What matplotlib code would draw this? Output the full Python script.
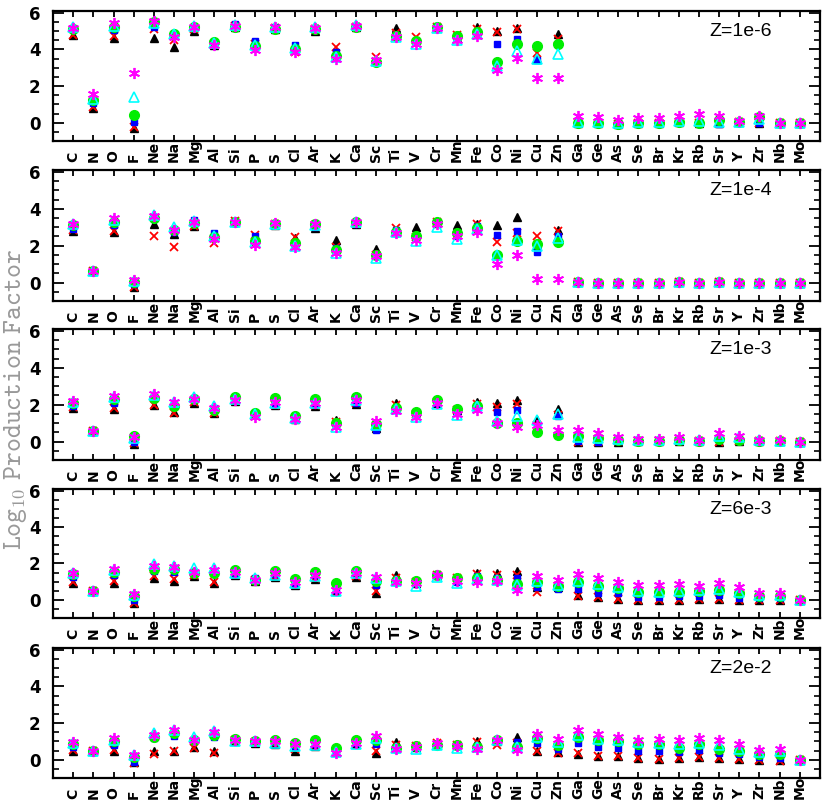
import matplotlib
matplotlib.use("Agg")
import matplotlib.pyplot as plt
from matplotlib.ticker import MultipleLocator
from matplotlib.transforms import offset_copy

elements = ["C", "N", "O", "F", "Ne", "Na", "Mg", "Al", "Si", "P", "S", "Cl", "Ar", "K", "Ca",
            "Sc", "Ti", "V", "Cr", "Mn", "Fe", "Co", "Ni", "Cu", "Zn", "Ga", "Ge", "As", "Se",
            "Br", "Kr", "Rb", "Sr", "Y", "Zr", "Nb", "Mo"]

panel_labels = ["Z=1e-6", "Z=1e-4", "Z=1e-3", "Z=6e-3", "Z=2e-2"]

# ---- Z=1e-6 ----
z1e6_black = [4.8, 0.8, 4.65, -0.3, 4.65, 4.15, 5.0, 4.25, 5.25, 4.35, 5.1, 4.2, 5.0, 3.85, 5.2, 3.35, 5.15, 4.5, 5.2, 4.65, 5.2, 5.0, 5.15, 3.5, 4.85,
              0.0, 0.0, -0.05, 0.0, 0.0, 0.05, 0.0, 0.0, 0.05, 0.0, 0.0, 0.0]
z1e6_red = [4.8, 0.85, 4.75, -0.25, 5.1, 4.5, 5.1, 4.3, 5.3, 4.3, 5.15, 3.85, 5.1, 4.15, 5.2, 3.6, 4.9, 4.7, 5.2, 4.8, 5.1, 4.95, 5.1, 3.8, 4.55,
            0.0, 0.0, -0.05, 0.0, 0.0, 0.05, 0.0, 0.0, 0.05, 0.0, 0.0, 0.0]
z1e6_blue = [5.1, 1.05, 5.05, 0.05, 5.2, 4.75, 5.2, 4.35, 5.4, 4.45, 5.2, 4.25, 5.15, 3.85, 5.3, 3.35, 4.8, 4.45, 5.2, 4.55, 4.9, 4.3, 4.55, 3.4, 4.3,
             0.0, 0.0, -0.05, 0.0, 0.0, 0.05, 0.0, -0.05, 0.05, 0.0, 0.0, 0.0]
z1e6_green = [5.1, 1.25, 5.2, 0.4, 5.5, 4.85, 5.25, 4.4, 5.25, 4.2, 5.1, 4.0, 5.1, 3.65, 5.25, 3.3, 4.75, 4.45, 5.2, 4.75, 4.95, 3.3, 4.3, 4.2, 4.3,
              0.0, 0.0, -0.05, 0.0, 0.0, 0.05, 0.0, 0.15, 0.05, 0.3, 0.0, 0.0]
z1e6_cyan = [5.2, 1.3, 5.3, 1.4, 5.45, 4.85, 5.3, 4.35, 5.35, 4.25, 5.25, 4.1, 5.2, 3.6, 5.35, 3.35, 4.7, 4.3, 5.15, 4.5, 4.85, 3.1, 3.9, 3.5, 3.75,
             0.05, 0.05, 0.0, 0.05, 0.05, 0.1, 0.1, 0.05, 0.05, 0.2, 0.0, 0.0]
z1e6_magenta = [5.15, 1.55, 5.45, 2.7, 5.55, 4.7, 5.25, 4.25, 5.3, 3.95, 5.2, 3.85, 5.15, 3.5, 5.3, 3.4, 4.7, 4.3, 5.15, 4.5, 4.75, 2.9, 3.55, 2.45, 2.45,
                0.35, 0.3, 0.15, 0.25, 0.25, 0.35, 0.5, 0.35, 0.1, 0.35, 0.0, 0.0]

# ---- Z=1e-4 ----
z1e4_black = [2.8, 0.6, 2.75, -0.25, 3.15, 2.65, 3.05, 2.5, 3.3, 2.45, 3.1, 2.4, 2.95, 2.3, 3.15, 1.8, 2.75, 3.0, 3.25, 3.1, 3.15, 3.1, 3.55, 2.05, 2.85,
              0.05, 0.0, -0.05, -0.05, -0.05, 0.05, 0.0, 0.05, 0.0, 0.0, 0.0, 0.0]
z1e4_red = [2.85, 0.6, 2.8, -0.25, 2.55, 1.9, 3.05, 2.15, 3.35, 2.6, 3.15, 2.45, 3.1, 1.95, 3.2, 1.5, 2.95, 2.45, 3.3, 2.6, 3.2, 2.2, 2.7, 2.5, 2.8,
            0.05, 0.0, -0.05, -0.05, -0.05, 0.05, 0.0, 0.05, 0.0, 0.0, 0.0, 0.0]
z1e4_blue = [2.9, 0.6, 3.1, -0.1, 3.45, 2.75, 3.4, 2.7, 3.3, 2.5, 3.15, 2.05, 3.0, 1.85, 3.15, 1.45, 2.85, 2.4, 3.25, 2.5, 3.05, 2.6, 2.8, 1.65, 2.5,
             0.05, 0.0, -0.05, -0.05, -0.05, 0.05, 0.0, 0.05, 0.0, 0.0, 0.0, 0.0]
z1e4_green = [3.1, 0.6, 3.3, 0.05, 3.5, 2.85, 3.25, 2.45, 3.3, 2.25, 3.2, 2.15, 3.15, 1.75, 3.3, 1.5, 2.75, 2.5, 3.3, 2.7, 2.95, 1.5, 2.25, 2.1, 2.2,
              0.05, 0.0, -0.05, -0.05, -0.05, 0.05, 0.0, 0.05, 0.0, 0.0, 0.0, 0.0]
z1e4_cyan = [3.15, 0.6, 3.4, 0.1, 3.65, 3.0, 3.35, 2.55, 3.3, 2.2, 3.2, 2.0, 3.1, 1.6, 3.3, 1.35, 2.75, 2.25, 3.0, 2.35, 2.9, 1.5, 2.3, 2.0, 2.4,
             0.05, 0.0, -0.05, -0.05, -0.05, 0.05, 0.0, 0.05, 0.0, 0.0, 0.0, 0.0]
z1e4_magenta = [3.2, 0.6, 3.5, 0.15, 3.6, 2.85, 3.3, 2.35, 3.3, 2.05, 3.25, 1.95, 3.15, 1.6, 3.3, 1.45, 2.7, 2.3, 3.2, 2.55, 2.75, 1.0, 1.5, 0.2, 0.2,
                0.05, 0.0, -0.05, -0.05, -0.05, 0.05, 0.0, 0.05, 0.0, 0.0, 0.0, 0.0]

# ---- Z=1e-3 ----
z1e3_black = [1.8, 0.55, 1.75, -0.15, 2.0, 1.6, 2.1, 1.55, 2.2, 1.5, 2.0, 1.2, 1.95, 1.15, 2.05, 0.75, 2.1, 1.6, 2.1, 1.7, 2.15, 2.1, 2.25, 1.15, 1.75,
              0.0, 0.0, 0.0, 0.05, 0.05, 0.05, 0.05, 0.0, 0.05, 0.05, 0.05, 0.0]
z1e3_red = [1.85, 0.55, 1.8, -0.1, 2.0, 1.55, 2.15, 1.55, 2.25, 1.45, 2.0, 1.2, 2.0, 1.05, 2.1, 0.8, 2.0, 1.5, 2.15, 1.7, 2.05, 1.85, 2.05, 0.9, 1.45,
            0.0, 0.0, 0.05, 0.05, 0.05, 0.05, 0.05, 0.0, 0.05, 0.05, 0.05, 0.0]
z1e3_blue = [1.9, 0.55, 2.1, 0.0, 2.4, 1.95, 2.35, 1.8, 2.3, 1.45, 2.05, 1.2, 2.05, 0.9, 2.1, 0.65, 1.8, 1.4, 2.1, 1.55, 1.9, 1.6, 1.7, 0.8, 1.4,
             0.05, 0.0, 0.05, 0.05, 0.05, 0.05, 0.05, 0.1, 0.05, 0.05, 0.05, 0.0]
z1e3_green = [2.1, 0.55, 2.3, 0.3, 2.35, 1.95, 2.3, 1.7, 2.4, 1.55, 2.35, 1.4, 2.3, 1.0, 2.4, 0.95, 1.8, 1.6, 2.25, 1.75, 1.9, 1.0, 1.0, 0.5, 0.35,
              0.3, 0.2, 0.1, 0.05, 0.05, 0.1, 0.05, 0.15, 0.1, 0.05, 0.05, 0.0]
z1e3_cyan = [2.15, 0.55, 2.4, 0.2, 2.55, 2.15, 2.4, 1.9, 2.3, 1.5, 2.1, 1.25, 2.1, 0.8, 2.25, 0.9, 1.75, 1.35, 2.05, 1.45, 1.9, 1.1, 1.4, 1.15, 1.5,
             0.25, 0.2, 0.15, 0.1, 0.1, 0.15, 0.1, 0.3, 0.25, 0.1, 0.05, 0.0]
z1e3_magenta = [2.2, 0.55, 2.45, 0.25, 2.6, 2.15, 2.3, 1.8, 2.25, 1.35, 2.15, 1.2, 2.1, 0.8, 2.25, 1.1, 1.65, 1.35, 2.1, 1.5, 1.7, 1.0, 0.8, 0.9, 0.6,
                0.6, 0.45, 0.25, 0.15, 0.15, 0.25, 0.1, 0.45, 0.3, 0.1, 0.1, 0.0]

# ---- Z=6e-3 ----
z6e3_black = [0.95, 0.5, 0.9, -0.15, 1.2, 1.05, 1.3, 0.95, 1.35, 1.05, 1.25, 0.8, 1.15, 0.5, 1.25, 0.35, 1.35, 0.9, 1.35, 1.25, 1.45, 1.45, 1.6, 0.7, 0.7,
              0.25, 0.15, 0.05, 0.0, 0.0, 0.0, 0.05, 0.05, 0.0, 0.0, 0.0, 0.0]
z6e3_red = [1.0, 0.5, 1.05, -0.15, 1.3, 1.15, 1.35, 1.0, 1.4, 1.1, 1.3, 0.85, 1.2, 0.5, 1.3, 0.5, 1.2, 1.0, 1.35, 1.2, 1.4, 1.35, 1.35, 0.45, 0.75,
            0.2, 0.15, 0.05, 0.0, 0.0, 0.0, 0.05, 0.05, 0.0, 0.0, 0.0, 0.0]
z6e3_blue = [1.25, 0.5, 1.35, 0.0, 1.6, 1.55, 1.55, 1.5, 1.5, 1.2, 1.4, 0.9, 1.35, 0.55, 1.4, 0.8, 1.05, 0.95, 1.35, 1.0, 1.3, 1.2, 1.2, 0.7, 0.6,
             0.6, 0.4, 0.35, 0.15, 0.15, 0.2, 0.2, 0.25, 0.1, 0.1, 0.1, 0.0]
z6e3_green = [1.4, 0.5, 1.55, 0.2, 1.7, 1.7, 1.45, 1.5, 1.65, 1.1, 1.6, 1.15, 1.55, 0.95, 1.6, 1.05, 1.05, 1.05, 1.35, 1.2, 1.2, 1.1, 0.85, 1.0, 0.75,
              1.0, 0.75, 0.65, 0.45, 0.45, 0.45, 0.5, 0.55, 0.4, 0.2, 0.2, 0.0]
z6e3_cyan = [1.45, 0.5, 1.65, 0.25, 1.95, 1.85, 1.75, 1.75, 1.45, 1.2, 1.35, 0.9, 1.3, 0.5, 1.45, 1.2, 1.05, 0.75, 1.25, 0.9, 1.15, 1.1, 0.8, 1.05, 0.8,
             1.05, 0.85, 0.7, 0.5, 0.45, 0.5, 0.55, 0.6, 0.45, 0.25, 0.25, 0.0]
z6e3_magenta = [1.45, 0.5, 1.7, 0.3, 1.85, 1.8, 1.55, 1.65, 1.55, 1.1, 1.45, 1.0, 1.35, 0.55, 1.45, 1.25, 1.0, 0.9, 1.35, 1.05, 1.0, 1.05, 0.55, 1.3, 1.1,
                1.4, 1.2, 1.0, 0.8, 0.8, 0.85, 0.75, 0.95, 0.7, 0.4, 0.4, 0.0]

# ---- Z=2e-2 ----
z2e2_black = [0.5, 0.45, 0.45, -0.15, 0.5, 0.5, 0.7, 0.5, 1.0, 0.9, 0.85, 0.5, 0.75, 0.4, 0.85, 0.35, 0.95, 0.7, 0.85, 0.8, 1.0, 1.0, 1.25, 0.5, 0.4,
              0.3, 0.2, 0.2, 0.1, 0.05, 0.1, 0.15, 0.1, 0.05, 0.0, 0.0, 0.0]
z2e2_red = [0.55, 0.45, 0.55, -0.2, 0.3, 0.5, 0.65, 0.35, 1.05, 0.95, 0.9, 0.6, 0.8, 0.4, 0.9, 0.5, 0.8, 0.75, 0.9, 0.8, 0.95, 0.8, 0.9, 0.5, 0.35,
            0.35, 0.2, 0.2, 0.1, 0.05, 0.1, 0.15, 0.1, 0.05, 0.0, -0.05, 0.0]
z2e2_blue = [0.7, 0.45, 0.8, -0.1, 1.2, 1.3, 1.05, 1.25, 1.05, 0.95, 0.95, 0.7, 0.85, 0.4, 0.9, 0.85, 0.7, 0.7, 0.85, 0.75, 0.75, 1.0, 0.95, 0.9, 0.6,
             0.9, 0.7, 0.65, 0.5, 0.5, 0.4, 0.55, 0.35, 0.3, 0.15, 0.1, 0.0]
z2e2_green = [0.85, 0.45, 1.0, 0.15, 1.25, 1.45, 1.05, 1.35, 1.15, 1.0, 1.1, 0.9, 1.05, 0.65, 1.05, 1.1, 0.65, 0.75, 0.8, 0.8, 0.7, 1.05, 0.7, 1.2, 0.8,
              1.25, 1.05, 1.0, 0.85, 0.85, 0.65, 0.85, 0.6, 0.5, 0.3, 0.3, 0.0]
z2e2_cyan = [0.9, 0.45, 1.1, 0.25, 1.45, 1.6, 1.25, 1.55, 1.0, 1.0, 0.9, 0.75, 0.8, 0.4, 0.85, 1.2, 0.65, 0.6, 0.8, 0.65, 0.7, 1.1, 0.7, 1.25, 0.95,
             1.35, 1.15, 1.05, 0.95, 0.9, 0.85, 0.9, 0.8, 0.6, 0.4, 0.45, 0.0]
z2e2_magenta = [0.95, 0.45, 1.2, 0.25, 1.35, 1.6, 1.1, 1.5, 1.1, 1.0, 1.0, 0.85, 0.85, 0.35, 0.9, 1.3, 0.6, 0.7, 0.9, 0.75, 0.6, 1.05, 0.55, 1.4, 1.15,
                1.6, 1.4, 1.25, 1.1, 1.15, 1.05, 1.2, 1.1, 0.85, 0.55, 0.6, 0.0]

panels = [
    [z1e6_black, z1e6_red, z1e6_blue, z1e6_green, z1e6_cyan, z1e6_magenta],
    [z1e4_black, z1e4_red, z1e4_blue, z1e4_green, z1e4_cyan, z1e4_magenta],
    [z1e3_black, z1e3_red, z1e3_blue, z1e3_green, z1e3_cyan, z1e3_magenta],
    [z6e3_black, z6e3_red, z6e3_blue, z6e3_green, z6e3_cyan, z6e3_magenta],
    [z2e2_black, z2e2_red, z2e2_blue, z2e2_green, z2e2_cyan, z2e2_magenta],
]

styles = [
    dict(marker="^", color="black", markersize=6, linestyle="none"),
    dict(marker="x", color="#ff0000", markersize=6, markeredgewidth=1.3, linestyle="none"),
    dict(marker="s", color="#0000ff", markersize=5, linestyle="none"),
    dict(marker="o", color="#00ee00", markersize=7, linestyle="none"),
    dict(marker="^", color="#00ffff", markerfacecolor="none", markeredgewidth=1.2, markersize=7, linestyle="none"),
    dict(marker=(6, 2, 0), color="#ff00ff", markersize=8, markeredgewidth=1.3, linestyle="none"),
]

plt.rcParams["mathtext.fontset"] = "cm"

W, H = 830, 811
fig = plt.figure(figsize=(W / 100, H / 100), dpi=100)

tops = [11, 170, 329, 489, 648]
bottoms = [141, 301, 460, 618, 778]
left_px, right_px = 53, 820

x = list(range(len(elements)))
for p, (top, bot) in enumerate(zip(tops, bottoms)):
    ax = fig.add_axes([left_px / W, 1 - bot / H, (right_px - left_px) / W, (bot - top) / H])
    for series, st in zip(panels[p], styles):
        ax.plot(x, series, **st)
    ax.set_xlim(-1, 37)
    ax.set_ylim(-1, 6.1)
    ax.set_xticks(x)
    ax.set_xticklabels([])
    ax.set_yticks([0, 2, 4, 6])
    ax.yaxis.set_minor_locator(MultipleLocator(0.5))
    ax.tick_params(axis="x", which="major", direction="in", length=4, width=1.3, top=True, bottom=True)
    ax.tick_params(axis="y", which="major", direction="in", length=8, width=1.3, left=True, right=True,
                   labelsize=12, pad=9)
    ax.tick_params(axis="y", which="minor", direction="in", length=4, width=1.2, left=True, right=True)
    for lab in ax.get_yticklabels():
        lab.set_fontweight("bold")
        lab.set_family("DejaVu Sans")
    for s in ax.spines.values():
        s.set_linewidth(1.6)
    trans = offset_copy(ax.get_xaxis_transform(), fig=fig, x=0, y=-21, units="dots")
    for i, el in enumerate(elements):
        ax.text(i, 0, el, transform=trans, rotation=90, ha="center", va="bottom",
                fontsize=10, fontweight="bold", family="DejaVu Sans")
    ax.text(0.937, 0.84, panel_labels[p], transform=ax.transAxes, ha="right", va="center",
            fontsize=14, family="Liberation Sans")

fig.text(0.019, 0.507, r"$\mathtt{Log}_{\mathtt{10}}\ \mathtt{Production\ Factor}$", rotation=90,
         ha="center", va="center", fontsize=19, color="#999999")

fig.savefig("out.png", dpi=100)
